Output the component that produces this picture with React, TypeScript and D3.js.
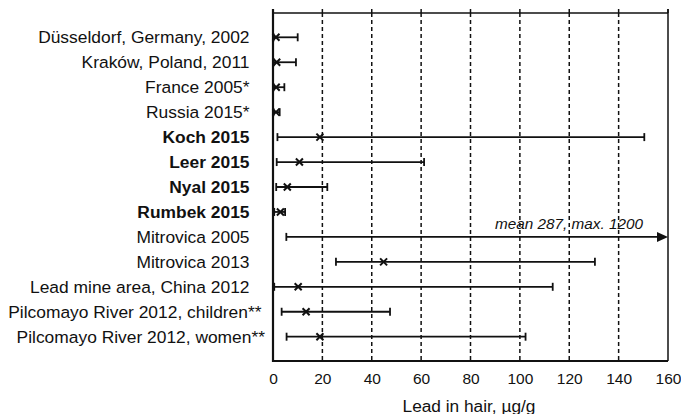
import React, { useEffect, useRef } from 'react';
import * as d3 from 'd3';

// study sites, top to bottom
const sites = [
    'Düsseldorf, Germany, 2002',
    'Kraków, Poland, 2011',
    'France 2005*',
    'Russia 2015*',
    'Koch 2015',
    'Leer 2015',
    'Nyal 2015',
    'Rumbek 2015',
    'Mitrovica 2005',
    'Mitrovica 2013',
    'Lead mine area, China 2012',
    'Pilcomayo River 2012, children**',
    'Pilcomayo River 2012, women**',
];
const boldSites = ['Koch 2015', 'Leer 2015', 'Nyal 2015', 'Rumbek 2015'];

// lead in hair, µg/g
const minValues = [0.2, 0.2, 0.2, 0.2, 1.8, 1.5, 1.3, 0.5, 5.4, 25.5, 0.5, 3.5, 5.5];
const meanValues = [1.2, 1.5, 1.3, 1.2, 19, 10.7, 5.8, 3, 287, 44.8, 10.2, 13.4, 19];
const maxValues = [10, 9.3, 4.6, 2.7, 150.4, 61.2, 22, 4.9, 1200, 130.4, 113.3, 47.4, 102.3];

const xTicks = [0, 20, 40, 60, 80, 100, 120, 140, 160];
const xTitle = 'Lead in hair, µg/g';

const App = () => {
    const svgRef = useRef<SVGSVGElement>(null);

    useEffect(() => {
        const svg = d3.select(svgRef.current);
        svg.selectAll('*').remove();

        const left = 273;
        const right = 668;
        const top = 13;
        const bottom = 361;
        const font = '"Liberation Sans", Arial, Helvetica, sans-serif';

        const x = d3.scaleLinear().domain([0, 160]).range([left, right]);
        const y = d3.scalePoint<string>().domain(sites).range([37.3, 336.7]);
        const xMax = x.domain()[1];

        // dashed grid
        svg.append('g')
            .selectAll('line')
            .data(xTicks.filter((t) => t > 0 && t < xMax))
            .join('line')
            .attr('x1', (d) => x(d))
            .attr('x2', (d) => x(d))
            .attr('y1', top)
            .attr('y2', bottom)
            .attr('stroke', '#111')
            .attr('stroke-width', 1.5)
            .attr('stroke-dasharray', '4,3');

        // top ticks
        svg.append('g')
            .selectAll('line')
            .data(xTicks)
            .join('line')
            .attr('x1', (d) => x(d))
            .attr('x2', (d) => x(d))
            .attr('y1', top - 4)
            .attr('y2', top)
            .attr('stroke', '#111')
            .attr('stroke-width', 1.5);

        // frame
        const frame = svg.append('g').attr('stroke', '#111').attr('fill', 'none');
        frame.append('line').attr('x1', left).attr('x2', right).attr('y1', top).attr('y2', top).attr('stroke-width', 1.5);
        frame.append('line').attr('x1', right).attr('x2', right).attr('y1', top - 4).attr('y2', bottom).attr('stroke-width', 1.5);
        frame.append('line').attr('x1', left).attr('x2', left).attr('y1', top - 4).attr('y2', bottom + 1).attr('stroke-width', 2.2);
        frame.append('line').attr('x1', left).attr('x2', right).attr('y1', bottom).attr('y2', bottom).attr('stroke-width', 2.2);

        // x axis labels
        const xAxis = svg.append('g')
            .attr('transform', `translate(0,${bottom})`)
            .call(d3.axisBottom(x).tickValues(xTicks).tickSize(0).tickPadding(12));
        xAxis.select('.domain').remove();
        xAxis.selectAll('text')
            .attr('fill', '#111')
            .style('font-family', font)
            .style('font-size', '15.5px');

        svg.append('text')
            .attr('x', 469)
            .attr('y', 411.5)
            .attr('text-anchor', 'middle')
            .attr('fill', '#111')
            .style('font-family', font)
            .style('font-size', '17.3px')
            .text(xTitle);

        // site labels
        const labelNudge: Record<string, number> = {
            'Pilcomayo River 2012, children**': 12,
            'Pilcomayo River 2012, women**': 15.5,
        };
        svg.append('g')
            .selectAll('text')
            .data(sites)
            .join('text')
            .attr('x', (d) => 249.5 + (labelNudge[d] || 0))
            .attr('y', (d) => (y(d) as number) + 6)
            .attr('text-anchor', 'end')
            .attr('fill', '#111')
            .style('font-family', font)
            .style('font-size', '17.4px')
            .style('font-weight', (d) => (boldSites.includes(d) ? 'bold' : 'normal'))
            .text((d) => d);

        // error bars
        const rows = sites.map((s, i) => ({
            site: s,
            min: minValues[i],
            mean: meanValues[i],
            max: maxValues[i],
        }));
        const bars = svg.append('g').attr('stroke', '#111').attr('fill', 'none');
        const cap = 4;

        rows.forEach((r) => {
            const cy = y(r.site) as number;
            const clipped = r.max > xMax;
            const x0 = x(r.min);
            const x1 = clipped ? x(xMax) - 11 : x(r.max);

            bars.append('line')
                .attr('x1', x0).attr('x2', x1)
                .attr('y1', cy).attr('y2', cy)
                .attr('stroke-width', 1.8);
            bars.append('line')
                .attr('x1', x0).attr('x2', x0)
                .attr('y1', cy - cap).attr('y2', cy + cap)
                .attr('stroke-width', 1.8);

            if (clipped) {
                svg.append('path')
                    .attr('d', `M${x(xMax)},${cy} L${x1},${cy - 5} L${x1},${cy + 5} Z`)
                    .attr('fill', '#111');
                svg.append('text')
                    .attr('x', x(xMax) - 25)
                    .attr('y', cy - 8)
                    .attr('text-anchor', 'end')
                    .attr('fill', '#111')
                    .style('font-family', font)
                    .style('font-size', '15.3px')
                    .style('font-style', 'italic')
                    .text(`mean ${r.mean}, max. ${r.max}`);
            } else {
                bars.append('line')
                    .attr('x1', x1).attr('x2', x1)
                    .attr('y1', cy - cap).attr('y2', cy + cap)
                    .attr('stroke-width', 1.8);
            }

            if (r.mean <= xMax) {
                const mx = x(r.mean);
                const s = 3.5;
                bars.append('path')
                    .attr('d', `M${mx - s},${cy - s} L${mx + s},${cy + s} M${mx - s},${cy + s} L${mx + s},${cy - s}`)
                    .attr('stroke-width', 2);
            }
        });
    }, []);

    return (
        <svg
            ref={svgRef}
            width={681}
            height={414}
            style={{ position: 'absolute', left: 0, top: 0, background: '#fff' }}
        />
    );
};

export default App;
